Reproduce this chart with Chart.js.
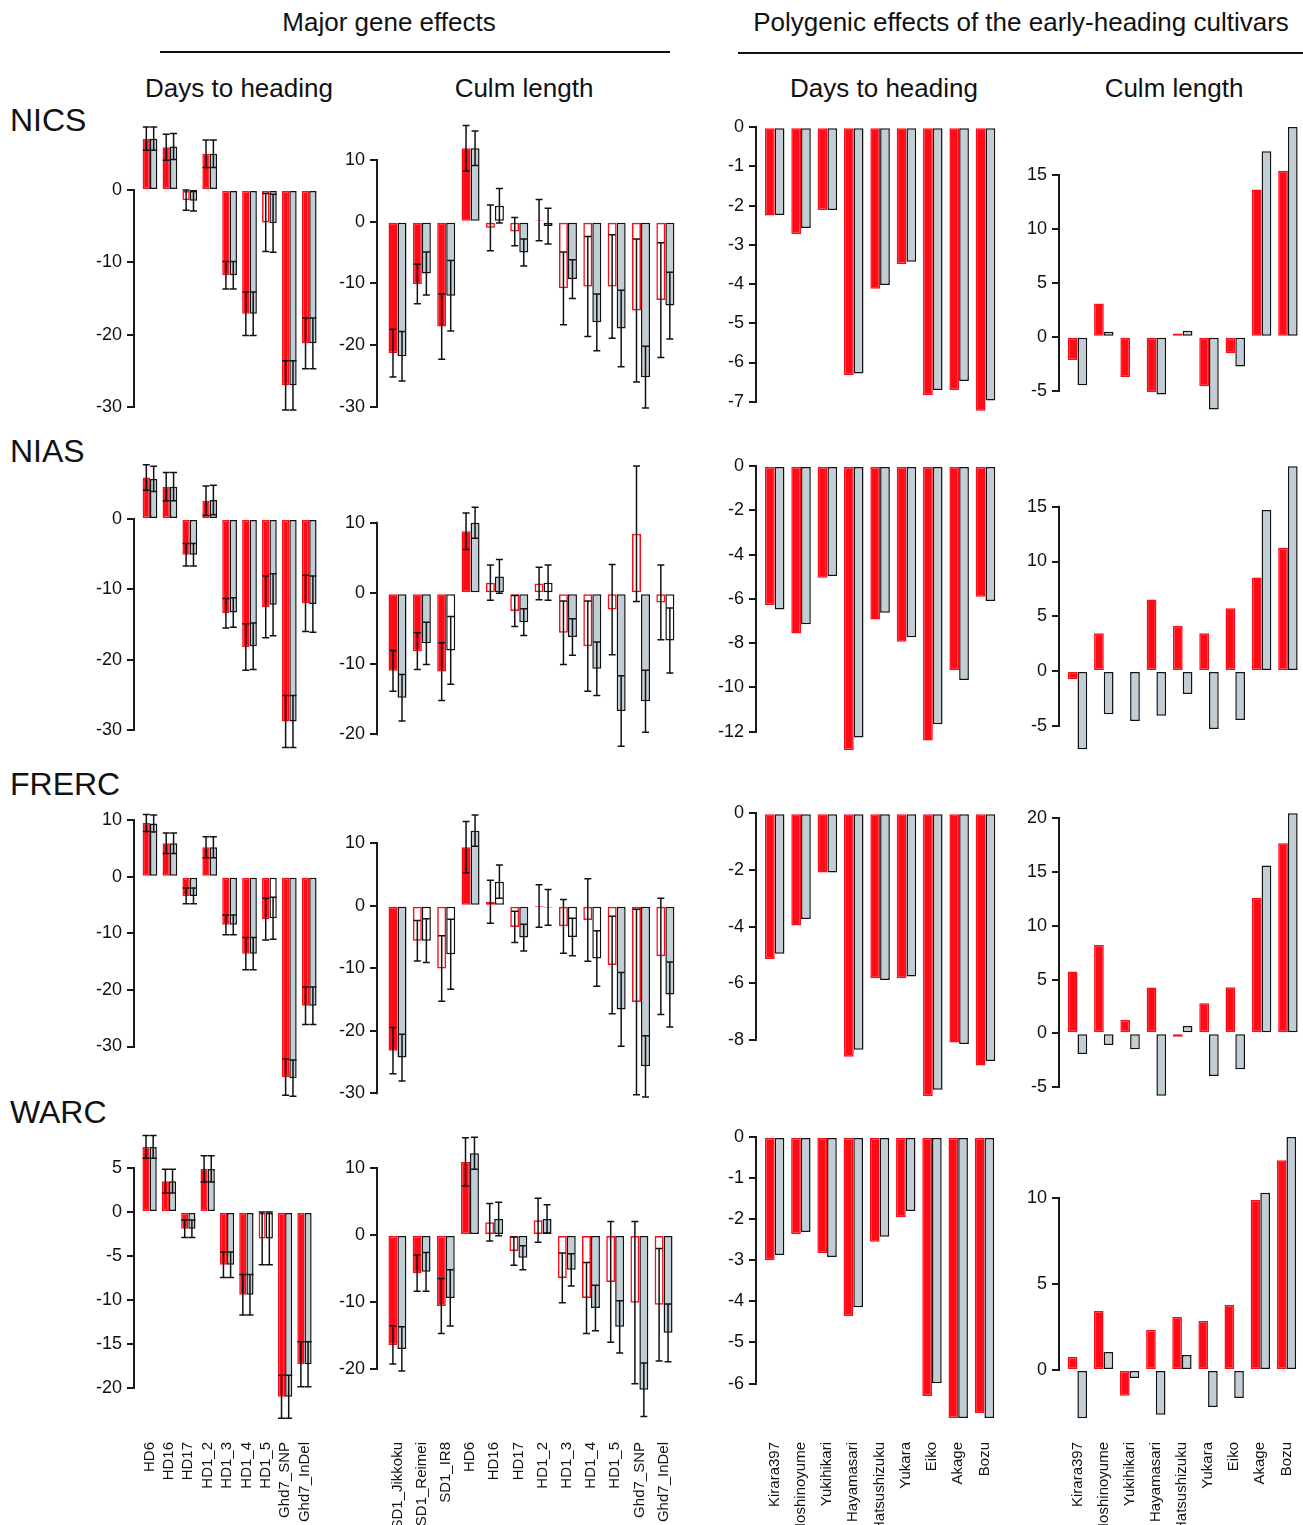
<!DOCTYPE html>
<html>
<head>
<meta charset="utf-8">
<script src="https://cdn.jsdelivr.net/npm/chart.js@4.4.1/dist/chart.umd.min.js"></script>
<style>
  body { margin: 0; background: #fff; font-family: "Liberation Sans", Arial, Helvetica, sans-serif; color: #111; }
  #fig { position: relative; width: 1303px; height: 1525px; overflow: hidden; }
  #fig canvas { position: absolute; }
  .t { position: absolute; white-space: nowrap; transform: translate(-50%, -50%); font-size: 26px; }
  .row { position: absolute; white-space: nowrap; transform: translateY(-50%); font-size: 32px; left: 10px; }
  .rule { position: absolute; height: 2px; background: #111; }
</style>
</head>
<body>
<div id="fig">
  <div class="t" style="left:389px;top:22px">Major gene effects</div>
  <div class="rule" style="left:160px;top:51px;width:510px"></div>
  <div class="t" style="left:1021px;top:22px">Polygenic effects of the early-heading cultivars</div>
  <div class="rule" style="left:738px;top:52px;width:565px"></div>
  <div class="t" style="left:239px;top:88px">Days to heading</div>
  <div class="t" style="left:524px;top:88px">Culm length</div>
  <div class="t" style="left:884px;top:88px">Days to heading</div>
  <div class="t" style="left:1174px;top:88px">Culm length</div>
  <div class="row" style="top:120px">NICS</div>
  <div class="row" style="top:451px">NIAS</div>
  <div class="row" style="top:784px">FRERC</div>
  <div class="row" style="top:1112px">WARC</div>
</div>
<script>
// categories
var daysGenes = ['HD6', 'HD16', 'HD17', 'HD1_2', 'HD1_3', 'HD1_4', 'HD1_5', 'Ghd7_SNP', 'Ghd7_InDel'];
var culmGenes = ['SD1_Jikkoku', 'SD1_Reimei', 'SD1_IR8', 'HD6', 'HD16', 'HD17', 'HD1_2', 'HD1_3', 'HD1_4', 'HD1_5', 'Ghd7_SNP', 'Ghd7_InDel'];
var cultivars = ['Kirara397', 'Hoshinoyume', 'Yukihikari', 'Hayamasari', 'Hatsushizuku', 'Yukara', 'Eiko', 'Akage', 'Bozu'];

// tick labels
var nicsTicks = [[0, -10, -20, -30], [10, 0, -10, -20, -30], [0, -1, -2, -3, -4, -5, -6, -7], [-5, 0, 5, 10, 15]];
var niasTicks = [[0, -10, -20, -30], [10, 0, -10, -20], [0, -2, -4, -6, -8, -10, -12], [-5, 0, 5, 10, 15]];
var frercTicks = [[10, 0, -10, -20, -30], [10, 0, -10, -20, -30], [0, -2, -4, -6, -8], [-5, 0, 5, 10, 15, 20]];
var warcTicks = [[5, 0, -5, -10, -15, -20], [10, 0, -10, -20], [0, -1, -2, -3, -4, -5, -6], [0, 5, 10]];

// NICS
var nicsDaysRed = [7.1, 5.9, -1.4, 5.0, -11.8, -17.1, -4.5, -27.0, -21.2];
var nicsDaysRedSe = [1.6, 1.8, 1.4, 1.9, 1.9, 3.0, 4.0, 3.4, 3.5];
var nicsDaysRedSig = [1, 1, 0, 1, 1, 1, 0, 1, 1];
var nicsDaysGray = [7.1, 6.0, -1.5, 5.0, -11.8, -17.1, -4.6, -27.0, -21.2];
var nicsDaysGraySe = [1.6, 1.8, 1.4, 1.9, 1.9, 3.0, 4.0, 3.4, 3.5];
var nicsDaysGraySig = [1, 1, 1, 1, 1, 1, 1, 1, 1];
var nicsCulmRed = [-21.3, -10.1, -17.0, 11.9, -1.0, -1.6, 0.25, -10.8, -10.5, -10.5, -14.4, -12.7];
var nicsCulmRedSe = [3.85, 3.2, 5.3, 3.7, 3.7, 2.3, 3.35, 5.9, 8.1, 8.4, 11.6, 9.3];
var nicsCulmRedSig = [1, 1, 1, 1, 0, 0, 1, 0, 0, 0, 0, 0];
var nicsCulmGray = [-21.8, -8.4, -12.0, 11.9, 2.6, -5.0, -0.7, -9.3, -16.3, -17.3, -25.2, -13.6];
var nicsCulmGraySe = [4.0, 3.5, 5.7, 2.8, 2.8, 2.2, 2.9, 3.15, 4.6, 6.2, 5.0, 5.4];
var nicsCulmGraySig = [1, 1, 1, 1, 0, 1, 0, 1, 1, 1, 1, 1];
var nicsPolyDaysRed = [-2.25, -2.72, -2.11, -6.32, -4.12, -3.49, -6.83, -6.70, -7.23];
var nicsPolyDaysGray = [-2.24, -2.57, -2.11, -6.28, -4.02, -3.43, -6.70, -6.47, -6.97];
var nicsPolyCulmRed = [-2.15, 3.07, -3.74, -5.15, 0.3, -4.6, -1.53, 13.65, 15.4];
var nicsPolyCulmGray = [-4.5, 0.46, 0.0, -5.37, 0.55, -6.75, -2.76, 17.2, 19.45];

// NIAS
var niasDaysRed = [5.9, 4.6, -5.1, 2.6, -13.4, -18.2, -12.5, -28.8, -12.0];
var niasDaysRedSe = [1.8, 2.0, 1.6, 2.1, 2.1, 3.3, 4.4, 3.7, 4.0];
var niasDaysRedSig = [1, 1, 1, 1, 1, 1, 1, 1, 1];
var niasDaysGray = [5.7, 4.6, -5.1, 2.7, -13.3, -18.1, -12.2, -28.8, -12.1];
var niasDaysGraySe = [1.8, 2.0, 1.6, 2.1, 2.1, 3.3, 4.4, 3.7, 4.0];
var niasDaysGraySig = [1, 1, 1, 1, 1, 1, 1, 1, 1];
var niasCulmRed = [-11.0, -8.2, -11.1, 8.8, 1.5, -2.5, 1.4, -5.6, -7.5, -2.3, 8.45, -1.3];
var niasCulmRedSe = [2.9, 2.6, 4.1, 2.6, 2.5, 2.2, 2.3, 4.5, 6.4, 6.4, 9.6, 5.3];
var niasCulmRedSig = [1, 1, 1, 1, 0, 0, 0, 0, 0, 0, 0, 0];
var niasCulmGray = [-14.8, -7.1, -8.1, 10.0, 2.4, -4.1, 1.5, -6.2, -10.7, -16.7, -15.3, -6.7];
var niasCulmGraySe = [3.3, 3.0, 4.8, 2.2, 2.4, 1.9, 2.5, 2.6, 3.8, 5.0, 4.4, 4.6];
var niasCulmGraySig = [1, 1, 0, 1, 1, 1, 0, 1, 1, 1, 1, 0];
var niasPolyDaysRed = [-6.28, -7.56, -5.05, -12.83, -6.93, -7.94, -12.4, -9.22, -5.9];
var niasPolyDaysGray = [-6.48, -7.15, -4.97, -12.26, -6.63, -7.74, -11.67, -9.67, -6.1];
var niasPolyCulmRed = [-0.76, 3.44, -0.1, 6.54, 4.1, 3.44, 5.72, 8.55, 11.26];
var niasPolyCulmGray = [-7.15, -3.95, -4.56, -4.08, -2.1, -5.3, -4.47, 14.7, 18.7];

// FRERC
var frercDaysRed = [9.5, 5.9, -3.4, 5.2, -8.5, -13.6, -7.5, -35.4, -22.8];
var frercDaysRedSe = [1.5, 1.8, 1.4, 1.85, 1.75, 2.85, 3.7, 3.2, 3.3];
var frercDaysRedSig = [1, 1, 1, 1, 1, 1, 1, 1, 1];
var frercDaysGray = [9.4, 5.9, -3.4, 5.2, -8.5, -13.6, -7.35, -35.6, -22.8];
var frercDaysGraySe = [1.5, 1.8, 1.4, 1.85, 1.75, 2.85, 3.7, 3.2, 3.3];
var frercDaysGraySig = [1, 1, 1, 1, 1, 1, 0, 1, 1];
var frercCulmRed = [-23.2, -5.6, -10.05, 9.36, 0.64, -3.4, -0.05, -3.3, -2.3, -9.5, -15.4, -8.1];
var frercCulmRedSe = [3.7, 3.25, 5.25, 4.1, 3.45, 2.5, 3.4, 4.3, 6.6, 7.8, 14.85, 9.3];
var frercCulmRedSig = [1, 0, 0, 1, 0, 0, 0, 0, 0, 0, 0, 0];
var frercCulmGray = [-24.3, -5.6, -7.75, 12.0, 3.85, -5.1, -0.27, -5.0, -8.45, -16.6, -25.7, -14.2];
var frercCulmGraySe = [3.75, 3.5, 5.6, 2.5, 2.65, 2.15, 2.85, 3.0, 4.45, 5.9, 4.9, 5.2];
var frercCulmGraySig = [1, 0, 0, 1, 0, 1, 0, 0, 0, 1, 1, 1];
var frercPolyDaysRed = [-5.14, -3.96, -2.09, -8.59, -5.82, -5.82, -9.98, -8.09, -8.9];
var frercPolyDaysGray = [-4.96, -3.73, -2.09, -8.35, -5.88, -5.76, -9.76, -8.14, -8.74];
var frercPolyCulmRed = [5.74, 8.22, 1.24, 4.25, -0.31, 2.79, 4.28, 12.62, 17.67];
var frercPolyCulmGray = [-1.92, -1.09, -1.49, -5.8, 0.68, -3.97, -3.35, 15.6, 20.47];

// WARC
var warcDaysRed = [7.4, 3.5, -1.9, 4.9, -6.0, -9.4, -3.0, -21.0, -17.3];
var warcDaysRedSe = [1.3, 1.35, 1.0, 1.5, 1.45, 2.3, 3.0, 2.45, 2.55];
var warcDaysRedSig = [1, 1, 1, 1, 1, 1, 0, 1, 1];
var warcDaysGray = [7.4, 3.5, -1.9, 4.9, -6.0, -9.4, -3.0, -21.0, -17.3];
var warcDaysGraySe = [1.3, 1.35, 1.0, 1.5, 1.45, 2.3, 3.0, 2.45, 2.55];
var warcDaysGraySig = [1, 1, 1, 1, 1, 1, 0, 1, 1];
var warcCulmRed = [-16.4, -5.7, -10.6, 10.9, 1.9, -2.4, 2.2, -6.4, -9.4, -7.0, -10.1, -10.4];
var warcCulmRedSe = [2.85, 2.7, 4.1, 3.6, 2.8, 2.1, 3.3, 3.7, 5.3, 9.0, 12.1, 8.4];
var warcCulmRedSig = [1, 1, 1, 1, 0, 0, 0, 0, 0, 0, 0, 0];
var warcCulmGray = [-17.0, -5.5, -9.4, 12.2, 2.4, -3.4, 2.4, -5.2, -10.9, -13.7, -23.1, -14.6];
var warcCulmGraySe = [3.3, 2.9, 4.2, 2.4, 2.5, 1.8, 2.1, 2.4, 3.4, 3.9, 4.0, 4.3];
var warcCulmGraySig = [1, 1, 1, 1, 1, 1, 1, 1, 1, 1, 1, 1];
var warcPolyDaysRed = [-3.0, -2.36, -2.82, -4.36, -2.55, -1.95, -6.3, -6.84, -6.72];
var warcPolyDaysGray = [-2.87, -2.31, -2.92, -4.14, -2.43, -1.8, -5.99, -6.84, -6.84];
var warcPolyCulmRed = [0.76, 3.43, -1.5, 2.33, 3.08, 2.85, 3.78, 9.88, 12.2];
var warcPolyCulmGray = [-2.8, 1.05, -0.47, -2.6, 0.87, -2.15, -1.63, 10.3, 13.55];

// layout (page pixels)
var RED = '#ff0a17';
var GRAY = '#c1ced5';
var YW = 70, PT = 20, PB = 20, PR = 10, XH = 97;
var cols = [
  { axisX: 135, c0: 150, pitch: 19.9 },
  { axisX: 378, c0: 397.5, pitch: 24.35 },
  { axisX: 757, c0: 774.7, pitch: 26.35 },
  { axisX: 1060, c0: 1077.5, pitch: 26.3 }
];
var rowBounds = [[115, 422], [452, 762], [800, 1100], [1118, 1428]];
// y pixel of zero and pixels per unit, per row/column
var yMaps = [
  [[190, 7.233], [221.7, 6.17], [127.3, 39.2], [336.7, 10.78]],
  [[519, 7.03], [593.3, 7.05], [466, 22.14], [671, 10.95]],
  [[876.7, 5.66], [905.7, 6.25], [813.3, 28.33], [1033.3, 10.75]],
  [[1212, 8.8], [1235, 6.7], [1137, 41.1], [1370, 17.2]]
];

Chart.defaults.font.family = '"Liberation Sans", Arial, Helvetica, sans-serif';
Chart.defaults.color = '#111';

var errPlugin = {
  id: 'errbars',
  afterDatasetsDraw: function (chart) {
    var ctx = chart.ctx, ys = chart.scales.y;
    chart.data.datasets.forEach(function (ds, d) {
      if (!ds.se) return;
      chart.getDatasetMeta(d).data.forEach(function (bar, i) {
        var v = ds.data[i].y, s = ds.se[i];
        var top = ys.getPixelForValue(v + s), bot = ys.getPixelForValue(v - s);
        ctx.save();
        ctx.strokeStyle = '#111';
        ctx.lineWidth = 1.5;
        ctx.beginPath();
        ctx.moveTo(bar.x, top); ctx.lineTo(bar.x, bot);
        ctx.moveTo(bar.x - 3.5, top); ctx.lineTo(bar.x + 3.5, top);
        ctx.moveTo(bar.x - 3.5, bot); ctx.lineTo(bar.x + 3.5, bot);
        ctx.stroke();
        ctx.restore();
      });
    });
  }
};

// R style axis line: only from first to last tick
var axisPlugin = {
  id: 'raxis',
  afterDraw: function (chart) {
    var ys = chart.scales.y, ctx = chart.ctx;
    var vals = ys.ticks.map(function (t) { return t.value; });
    var x = chart.chartArea.left - 1;
    ctx.save();
    ctx.strokeStyle = '#1a1a1a';
    ctx.lineWidth = 2;
    ctx.beginPath();
    ctx.moveTo(x, ys.getPixelForValue(Math.max.apply(null, vals)) - 1);
    ctx.lineTo(x, ys.getPixelForValue(Math.min.apply(null, vals)) + 1);
    ctx.stroke();
    ctx.restore();
  }
};

var fig = document.getElementById('fig');

function makePanel(row, col, labels, ticks, red, gray, redSe, graySe, redSig, graySig) {
  var c = cols[col], rb = rowBounds[row], ym = yMaps[row][col];
  var N = labels.length;
  var bottomRow = row === 3;
  var areaLeft = c.axisX;
  var areaRight = Math.round(c.c0 + (N - 0.5) * c.pitch);
  var areaTop = rb[0], areaBottom = rb[1];
  var cv = document.createElement('canvas');
  cv.width = areaRight - areaLeft + YW + PR;
  cv.height = areaBottom - areaTop + PT + (bottomRow ? XH : PB);
  cv.style.left = (areaLeft - YW) + 'px';
  cv.style.top = (areaTop - PT) + 'px';
  fig.appendChild(cv);
  var idx = labels.map(function (_, i) { return i; });

  new Chart(cv, {
    type: 'bar',
    data: {
      datasets: [{
        data: red.map(function (v, i) { return { x: i, y: v }; }),
        se: redSe,
        backgroundColor: redSig ? redSig.map(function (s) { return s ? RED : 'rgba(255,255,255,0)'; }) : RED,
        borderColor: RED,
        borderWidth: 1.5,
        borderSkipped: false
      }, {
        data: gray.map(function (v, i) { return { x: i, y: v }; }),
        se: graySe,
        backgroundColor: graySig ? graySig.map(function (s) { return s ? GRAY : '#ffffff'; }) : GRAY,
        borderColor: '#111',
        borderWidth: 1.5,
        borderSkipped: false
      }]
    },
    options: {
      responsive: false,
      animation: false,
      events: [],
      layout: { padding: { top: PT, right: PR, bottom: bottomRow ? 0 : PB, left: 0 } },
      datasets: { bar: { categoryPercentage: 0.74, barPercentage: 1 } },
      plugins: { legend: { display: false }, tooltip: { enabled: false } },
      scales: {
        x: {
          type: 'linear',
          offset: false,
          min: (areaLeft - c.c0) / c.pitch,
          max: (areaRight - c.c0) / c.pitch,
          display: bottomRow,
          grid: { display: false },
          border: { display: false },
          afterBuildTicks: function (s) { s.ticks = idx.map(function (v) { return { value: v }; }); },
          afterFit: function (s) { s.height = bottomRow ? XH : 0; },
          ticks: {
            autoSkip: false, minRotation: 90, maxRotation: 90, padding: 6,
            font: { size: 15 }, color: '#111',
            callback: function (v) { return labels[v]; }
          }
        },
        y: {
          min: (ym[0] - areaBottom) / ym[1],
          max: (ym[0] - areaTop) / ym[1],
          afterBuildTicks: function (s) { s.ticks = ticks.map(function (v) { return { value: v }; }); },
          afterFit: function (s) { s.width = YW; },
          grid: { drawOnChartArea: false, tickLength: 8, lineWidth: 2, color: '#1a1a1a' },
          border: { display: false },
          ticks: { autoSkip: false, padding: 5, font: { size: 18 }, color: '#111' }
        }
      }
    },
    plugins: [errPlugin, axisPlugin]
  });
}

makePanel(0, 0, daysGenes, nicsTicks[0], nicsDaysRed, nicsDaysGray, nicsDaysRedSe, nicsDaysGraySe, nicsDaysRedSig, nicsDaysGraySig);
makePanel(0, 1, culmGenes, nicsTicks[1], nicsCulmRed, nicsCulmGray, nicsCulmRedSe, nicsCulmGraySe, nicsCulmRedSig, nicsCulmGraySig);
makePanel(0, 2, cultivars, nicsTicks[2], nicsPolyDaysRed, nicsPolyDaysGray);
makePanel(0, 3, cultivars, nicsTicks[3], nicsPolyCulmRed, nicsPolyCulmGray);

makePanel(1, 0, daysGenes, niasTicks[0], niasDaysRed, niasDaysGray, niasDaysRedSe, niasDaysGraySe, niasDaysRedSig, niasDaysGraySig);
makePanel(1, 1, culmGenes, niasTicks[1], niasCulmRed, niasCulmGray, niasCulmRedSe, niasCulmGraySe, niasCulmRedSig, niasCulmGraySig);
makePanel(1, 2, cultivars, niasTicks[2], niasPolyDaysRed, niasPolyDaysGray);
makePanel(1, 3, cultivars, niasTicks[3], niasPolyCulmRed, niasPolyCulmGray);

makePanel(2, 0, daysGenes, frercTicks[0], frercDaysRed, frercDaysGray, frercDaysRedSe, frercDaysGraySe, frercDaysRedSig, frercDaysGraySig);
makePanel(2, 1, culmGenes, frercTicks[1], frercCulmRed, frercCulmGray, frercCulmRedSe, frercCulmGraySe, frercCulmRedSig, frercCulmGraySig);
makePanel(2, 2, cultivars, frercTicks[2], frercPolyDaysRed, frercPolyDaysGray);
makePanel(2, 3, cultivars, frercTicks[3], frercPolyCulmRed, frercPolyCulmGray);

makePanel(3, 0, daysGenes, warcTicks[0], warcDaysRed, warcDaysGray, warcDaysRedSe, warcDaysGraySe, warcDaysRedSig, warcDaysGraySig);
makePanel(3, 1, culmGenes, warcTicks[1], warcCulmRed, warcCulmGray, warcCulmRedSe, warcCulmGraySe, warcCulmRedSig, warcCulmGraySig);
makePanel(3, 2, cultivars, warcTicks[2], warcPolyDaysRed, warcPolyDaysGray);
makePanel(3, 3, cultivars, warcTicks[3], warcPolyCulmRed, warcPolyCulmGray);
</script>
</body>
</html>
